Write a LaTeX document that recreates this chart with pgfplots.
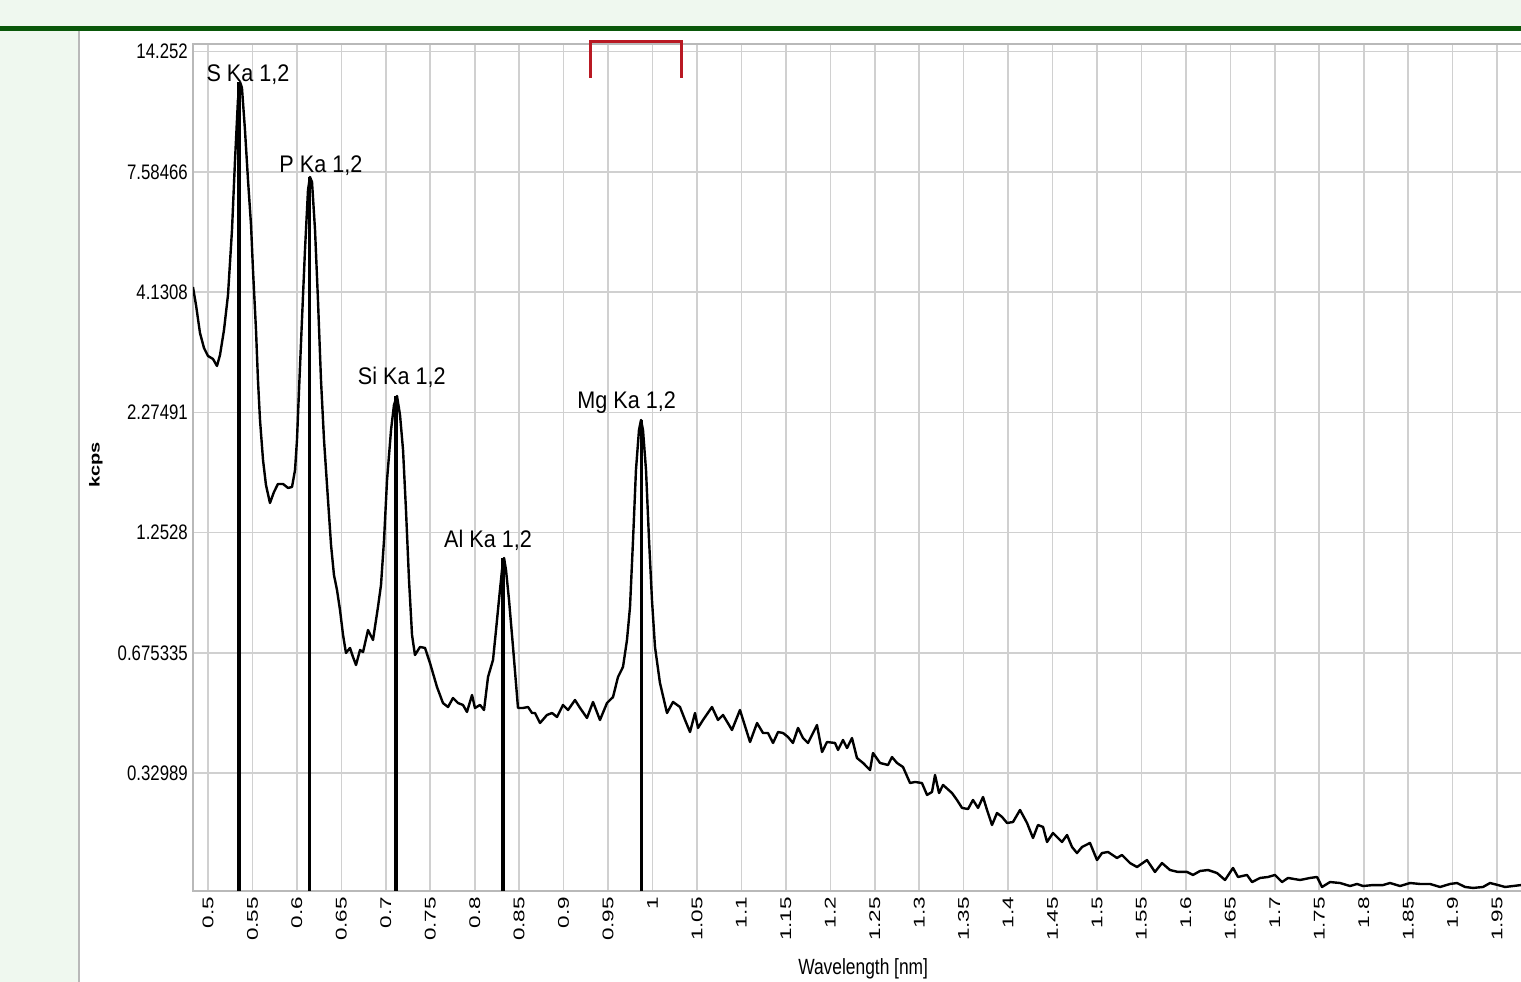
\documentclass[border=0pt]{standalone}
\usepackage{fontspec}
\setmainfont{Liberation Sans}
\newfontfamily\ytickfont{Liberation Sans}[FakeStretch=0.8]
\newfontfamily\xtickfont{Liberation Sans}[FakeStretch=1.45]
\newfontfamily\xlabfont{Liberation Sans}[FakeStretch=0.79]
\newfontfamily\ylabfont{Liberation Sans}[FakeStretch=1.38]
\newfontfamily\peakfont{Liberation Sans}[FakeStretch=0.9]
\usepackage{pgfplots}
\pgfplotsset{compat=1.18}
\definecolor{panelbg}{RGB}{239,248,239}
\definecolor{darkgreen}{RGB}{10,88,10}
\definecolor{gridgray}{RGB}{208,208,208}
\definecolor{axisgray}{RGB}{185,185,185}
\definecolor{bracketred}{RGB}{185,25,35}

% spectrum: wavelength [nm] vs. display level (1 = 0.32989 ... 7 = 14.252 kcps gridlines)
\pgfplotstableread{
x y
0.4831 5.042
0.4865 4.893
0.4910 4.660
0.4955 4.535
0.5000 4.469
0.5056 4.444
0.5101 4.386
0.5135 4.477
0.5180 4.685
0.5225 4.976
0.5270 5.516
0.5304 6.098
0.5337 6.597
0.5360 6.747
0.5382 6.697
0.5416 6.347
0.5450 5.932
0.5484 5.558
0.5506 5.184
0.5540 4.685
0.5562 4.269
0.5585 3.937
0.5619 3.604
0.5652 3.397
0.5697 3.247
0.5742 3.338
0.5787 3.405
0.5844 3.405
0.5900 3.372
0.5945 3.380
0.5979 3.521
0.6001 3.771
0.6024 4.186
0.6057 4.768
0.6091 5.350
0.6125 5.849
0.6147 5.957
0.6170 5.915
0.6204 5.516
0.6237 4.934
0.6271 4.269
0.6305 3.771
0.6350 3.272
0.6384 2.898
0.6417 2.648
0.6451 2.524
0.6485 2.357
0.6519 2.150
0.6552 2.000
0.6597 2.042
0.6631 1.967
0.6665 1.900
0.6710 2.025
0.6744 2.008
0.6800 2.191
0.6856 2.108
0.6912 2.382
0.6946 2.565
0.6980 2.939
0.7014 3.438
0.7059 3.854
0.7092 4.062
0.7126 4.136
0.7160 3.978
0.7194 3.687
0.7227 3.189
0.7261 2.607
0.7295 2.150
0.7328 1.983
0.7385 2.050
0.7441 2.042
0.7497 1.917
0.7576 1.717
0.7643 1.584
0.7700 1.551
0.7756 1.626
0.7812 1.584
0.7868 1.568
0.7913 1.510
0.7970 1.651
0.8003 1.543
0.8060 1.568
0.8105 1.526
0.8150 1.801
0.8206 1.942
0.8240 2.191
0.8273 2.441
0.8307 2.690
0.8330 2.790
0.8352 2.690
0.8386 2.441
0.8431 2.050
0.8487 1.543
0.8543 1.543
0.8600 1.551
0.8645 1.501
0.8678 1.501
0.8735 1.418
0.8813 1.485
0.8870 1.501
0.8926 1.468
0.8993 1.568
0.9050 1.526
0.9128 1.609
0.9185 1.543
0.9263 1.460
0.9331 1.593
0.9409 1.443
0.9488 1.584
0.9556 1.634
0.9612 1.801
0.9668 1.884
0.9713 2.108
0.9747 2.382
0.9781 2.939
0.9814 3.521
0.9848 3.854
0.9871 3.937
0.9893 3.854
0.9927 3.521
0.9961 2.939
0.9994 2.441
1.0028 2.050
1.0084 1.751
1.0163 1.501
1.0231 1.593
1.0309 1.551
1.0366 1.443
1.0422 1.343
1.0478 1.501
1.0512 1.377
1.0568 1.443
1.0669 1.551
1.0737 1.443
1.0793 1.485
1.0894 1.360
1.0984 1.526
1.1097 1.260
1.1176 1.418
1.1243 1.335
1.1299 1.335
1.1356 1.252
1.1412 1.343
1.1468 1.335
1.1524 1.302
1.1580 1.252
1.1637 1.377
1.1693 1.293
1.1749 1.252
1.1850 1.401
1.1907 1.177
1.1963 1.260
1.2053 1.252
1.2087 1.194
1.2143 1.277
1.2188 1.210
1.2244 1.293
1.2300 1.127
1.2368 1.086
1.2447 1.027
1.2480 1.169
1.2559 1.086
1.2649 1.069
1.2694 1.135
1.2750 1.086
1.2818 1.052
1.2897 0.919
1.2953 0.928
1.3031 0.919
1.3088 0.820
1.3144 0.845
1.3178 0.986
1.3223 0.836
1.3268 0.903
1.3369 0.836
1.3425 0.778
1.3482 0.712
1.3549 0.703
1.3605 0.778
1.3662 0.712
1.3718 0.803
1.3763 0.695
1.3819 0.570
1.3875 0.670
1.3932 0.637
1.3988 0.587
1.4055 0.595
1.4134 0.695
1.4213 0.587
1.4280 0.462
1.4336 0.570
1.4393 0.554
1.4438 0.429
1.4505 0.504
1.4606 0.429
1.4663 0.487
1.4719 0.387
1.4775 0.337
1.4831 0.387
1.4921 0.421
1.5000 0.279
1.5056 0.337
1.5124 0.346
1.5225 0.296
1.5281 0.321
1.5371 0.254
1.5450 0.221
1.5562 0.279
1.5652 0.180
1.5731 0.254
1.5821 0.196
1.5911 0.180
1.6012 0.180
1.6080 0.155
1.6159 0.188
1.6249 0.196
1.6350 0.171
1.6440 0.113
1.6530 0.213
1.6586 0.138
1.6687 0.155
1.6744 0.096
1.6834 0.130
1.6924 0.138
1.7002 0.155
1.7081 0.096
1.7149 0.130
1.7284 0.113
1.7396 0.130
1.7475 0.138
1.7531 0.055
1.7621 0.096
1.7734 0.088
1.7846 0.063
1.7925 0.080
1.7992 0.063
1.8105 0.071
1.8217 0.071
1.8296 0.088
1.8409 0.063
1.8521 0.088
1.8634 0.080
1.8746 0.080
1.8859 0.055
1.8971 0.080
1.9050 0.088
1.9140 0.055
1.9230 0.047
1.9342 0.055
1.9421 0.088
1.9511 0.071
1.9590 0.055
1.9680 0.063
1.9770 0.071
}\spectrum

\pgfplotstableread{
x y
0.5352 6.747
0.6140 5.957
0.7115 4.136
0.8315 2.790
0.9878 3.937
}\peaks

\begin{document}
\begin{tikzpicture}
\useasboundingbox (0,0) rectangle (1521bp,982bp);
\fill[panelbg] (0,0) rectangle (1521bp,982bp);
\fill[white] (79bp,0) rectangle (1521bp,951bp);
\draw[axisgray, line width=1.2bp] (79bp,0) -- (79bp,951bp);
\fill[darkgreen] (0,951bp) rectangle (1521bp,956bp);
\begin{axis}[
  at={(193bp,91bp)}, anchor=south west,
  scale only axis, width=1335bp, height=847bp,
  xmin=0.48313, xmax=1.98481, ymin=0.0216, ymax=7.0623,
  axis line style={draw=axisgray, line width=1.5bp},
  grid=major, major grid style={draw=gridgray, line width=1.6bp},
  major tick length=0pt,
  xtick={0.5,0.55,0.6,0.65,0.7,0.75,0.8,0.85,0.9,0.95,1,1.05,1.1,1.15,1.2,1.25,1.3,1.35,1.4,1.45,1.5,1.55,1.6,1.65,1.7,1.75,1.8,1.85,1.9,1.95},
  xticklabels={0.5,0.55,0.6,0.65,0.7,0.75,0.8,0.85,0.9,0.95,1,1.05,1.1,1.15,1.2,1.25,1.3,1.35,1.4,1.45,1.5,1.55,1.6,1.65,1.7,1.75,1.8,1.85,1.9,1.95},
  ytick={1,2,3,4,5,6,7},
  yticklabels={0.32989,0.675335,1.2528,2.27491,4.1308,7.58466,14.252},
  xticklabel style={rotate=90, anchor=east, inner sep=0pt, font=\xtickfont\fontsize{15.5bp}{15.5bp}\selectfont},
  yticklabel style={anchor=east, inner sep=0pt, font=\ytickfont\fontsize{21bp}{21bp}\selectfont},
  xticklabel shift=6bp, yticklabel shift=5bp,
  xlabel={Wavelength [nm]}, ylabel={kcps},
  xlabel style={at={(axis description cs:0.502,-0.0921)}, anchor=center, inner sep=0pt, font=\xlabfont\fontsize{22bp}{22bp}\selectfont},
  ylabel style={at={(axis description cs:-0.0727,0.503)}, anchor=center, inner sep=0pt, font=\ylabfont\bfseries\fontsize{14.5bp}{14.5bp}\selectfont},
  clip=true,
]
\addplot[black, line width=2.4bp, line join=round, mark=none] table[x=x, y=y] {\spectrum};
\addplot[ycomb, black, line width=3.6bp, mark=none] table[x=x, y=y] {\peaks};
\begin{scope}[every node/.style={font=\peakfont\fontsize{24bp}{24bp}\selectfont, inner sep=0pt}]
\node at (axis cs:0.545,6.805) {S Ka 1,2};
\node at (axis cs:0.627,6.048) {P Ka 1,2};
\node at (axis cs:0.718,4.294) {Si Ka 1,2};
\node at (axis cs:0.815,2.939) {Al Ka 1,2};
\node at (axis cs:0.971,4.078) {Mg Ka 1,2};
\end{scope}
\end{axis}
\draw[bracketred, line width=3bp] (590bp,904bp) -- (590bp,940bp) -- (681bp,940bp) -- (681bp,904bp);
\end{tikzpicture}
\end{document}
